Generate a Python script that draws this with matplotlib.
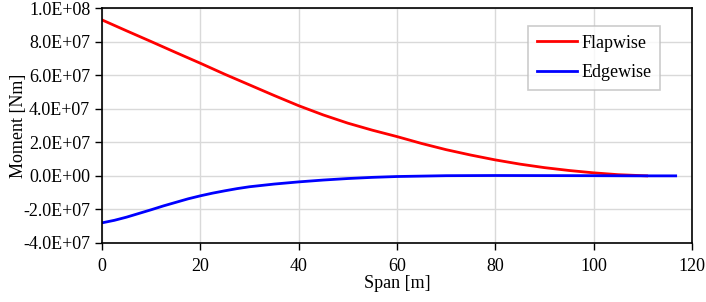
import matplotlib
matplotlib.use("Agg")
import matplotlib.pyplot as plt
import numpy as np

span_flap = [0, 5, 10, 15, 20, 25, 30, 35, 40, 45, 50, 55, 60, 65, 70, 75, 80, 85, 90, 95, 100, 105, 110.8]
flapwise = [9.29e7, 8.64e7, 8.0e7, 7.35e7, 6.71e7, 6.05e7, 5.42e7, 4.79e7, 4.18e7, 3.63e7, 3.14e7, 2.72e7, 2.34e7,
            1.93e7, 1.56e7, 1.24e7, 0.95e7, 0.70e7, 0.49e7, 0.32e7, 0.18e7, 0.07e7, 0.0]

span_edge = [0, 2.5, 5, 7.5, 10, 12.5, 15, 17.5, 20, 22.5, 25, 27.5, 30, 35, 40, 45, 50, 55, 60, 70, 80, 90, 100,
             110, 116.7]
edgewise = [-2.80e7, -2.65e7, -2.46e7, -2.24e7, -2.02e7, -1.79e7, -1.58e7, -1.37e7, -1.19e7, -1.03e7, -0.89e7,
            -0.76e7, -0.65e7, -0.49e7, -0.36e7, -0.25e7, -0.16e7, -0.09e7, -0.04e7, 0.01e7, 0.02e7, 0.015e7,
            0.01e7, 0.0, 0.0]

y_ticks = [-4e7, -2e7, 0, 2e7, 4e7, 6e7, 8e7, 1e8]
y_labels = ["-4.0E+07", "-2.0E+07", "0.0E+00", "2.0E+07", "4.0E+07", "6.0E+07", "8.0E+07", "1.0E+08"]
x_ticks = [0, 20, 40, 60, 80, 100, 120]

plt.rcParams['font.family'] = ['Liberation Serif', 'DejaVu Serif']
plt.rcParams['lines.solid_joinstyle'] = 'round'

fig = plt.figure(figsize=(7.06, 3.02), dpi=100)
ax = fig.add_axes([0.1445, 0.1954, 0.8355, 0.7781])

ax.plot(span_flap, flapwise, color='#ff0000', lw=2.0, label='Flapwise')
ax.plot(span_edge, edgewise, color='#0000ff', lw=2.0, label='Edgewise')

ax.set_xlim(0, 120)
ax.set_ylim(-4e7, 1e8)
ax.set_xticks(x_ticks)
ax.set_yticks(y_ticks)
ax.set_yticklabels(y_labels)
ax.grid(True, color='#d9d9d9', lw=1.0)
ax.set_axisbelow(True)
for s in ax.spines.values():
    s.set_color('black')
    s.set_linewidth(1.2)
ax.tick_params(direction='out', length=5, width=1.0, labelsize=13, colors='black')
ax.tick_params(axis='x', pad=6)
ax.set_xlabel('Span [m]', fontsize=13, labelpad=0)
ax.set_ylabel('Moment [Nm]', fontsize=13)
ax.yaxis.set_label_coords(-0.128, 0.5)

leg = ax.legend(loc='upper left', bbox_to_anchor=(0.722, 0.925), fontsize=13, frameon=True, fancybox=False,
                handlelength=2.2, handletextpad=0.25, borderpad=0.5, labelspacing=0.7, borderaxespad=0)
leg.get_frame().set_edgecolor('#bfbfbf')
leg.get_frame().set_linewidth(1.2)

fig.savefig('out.png', dpi=100)
